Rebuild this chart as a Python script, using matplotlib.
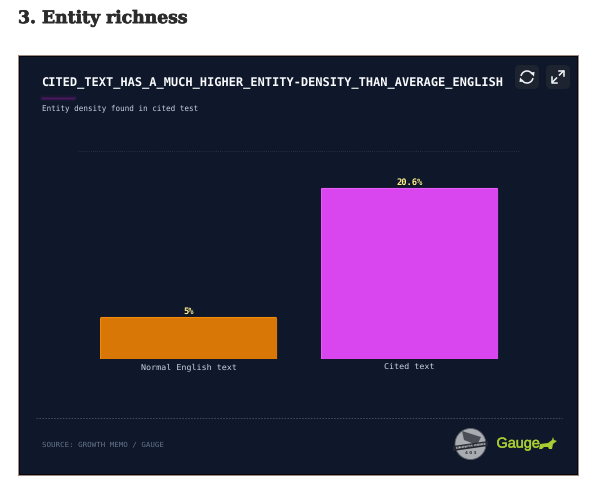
import matplotlib
matplotlib.use('Agg')
import matplotlib.pyplot as plt
import matplotlib.patheffects as pe
from matplotlib.patches import Rectangle, FancyBboxPatch, Circle, Polygon, Arc

categories = ['Normal English text', 'Cited text']
values = [5, 20.6]
value_labels = ['5%', '20.6%']
bar_colors = ['#d97706', '#d946ef']
bar_edges = ['#f08a0c', '#e85cf5']

W, H = 600, 488
BG = '#0f172a'

# unhinted text keeps the widths predictable at these tiny sizes
plt.rcParams['text.hinting'] = 'no_hinting'
plt.rcParams['text.hinting_factor'] = 8

fig = plt.figure(figsize=(W / 100, H / 100), dpi=100, facecolor='white')

# overlay in pixel coords for everything around the chart
page = fig.add_axes([0, 0, 1, 1], zorder=0)
page.set_xlim(0, W)
page.set_ylim(H, 0)
page.axis('off')

page.text(18, 18.5, '3. Entity richness', family='DejaVu Serif', weight='bold',
          fontsize=12.4, color='#2b2b2b', va='center', ha='left',
          path_effects=[pe.withStroke(linewidth=0.5, foreground='#2b2b2b')])

page.add_patch(Rectangle((18, 55), 561, 421, fc='#a08a80', ec='none'))
page.add_patch(Rectangle((19, 56), 559, 419, fc='#05070d', ec='none'))
page.add_patch(Rectangle((20, 57), 557, 417, fc=BG, ec='none'))

page.text(41.5, 83, 'CITED_TEXT_HAS_A_MUCH_HIGHER_ENTITY-DENSITY_THAN_AVERAGE_ENGLISH',
          family='DejaVu Sans Mono', weight='bold', fontsize=8.64, color='#f8fafc',
          va='center', ha='left')
page.text(41.5, 108, 'Entity density found in cited test', family='DejaVu Sans Mono',
          fontsize=5.47, color='#cbd5e1', va='center', ha='left')

# purple glow under the title
for lw, alpha in [(4, 0.08), (2.5, 0.12), (1, 0.3)]:
    page.plot([42, 74], [98, 98], color='#a21caf', lw=lw, alpha=alpha, solid_capstyle='round')

# buttons top right
for x0 in (515, 546):
    page.add_patch(FancyBboxPatch((x0 + 4, 69), 16, 16, boxstyle='round,pad=4,rounding_size=5',
                                  fc='#1d2430', ec='none'))
page.add_patch(Arc((527, 77), 12, 12, theta1=190, theta2=330, color='#f1f5f9', lw=1.1))
page.add_patch(Arc((527, 77), 12, 12, theta1=10, theta2=150, color='#f1f5f9', lw=1.1))
page.add_patch(Polygon([(530, 72.5), (534.5, 72), (534, 76.5)], fc='#f1f5f9', ec='none'))
page.add_patch(Polygon([(524, 81.5), (519.5, 82), (520, 77.5)], fc='#f1f5f9', ec='none'))
page.plot([552.5, 556.5], [82, 78], color='#f1f5f9', lw=1.1)
page.plot([559.5, 563.5], [75, 71], color='#f1f5f9', lw=1.1)
page.plot([559, 564, 564], [71, 71, 76], color='#f1f5f9', lw=1.1)
page.plot([552, 552, 557], [77, 82.5, 82.5], color='#f1f5f9', lw=1.1)

# footer
page.plot([36, 562], [418, 418], color='#475569', lw=0.6, ls=(0, (2, 1.5)))
page.text(41.5, 444, 'SOURCE: GROWTH MEMO / GAUGE', family='DejaVu Sans Mono',
          fontsize=5.36, color='#64748b', va='center', ha='left')

# growth memo badge
page.add_patch(Circle((470.5, 444), 15.5, fc='#a9acb0', ec='#5b6068', lw=0.6))
page.add_patch(Polygon([(462, 431), (481, 437), (477, 445), (464, 440)], fc='#4a4f57', ec='none'))
page.add_patch(Polygon([(453, 446), (488, 441), (488, 446), (453, 451)], fc='#23272f', ec='none'))
page.text(470.5, 446, 'GROWTH MEMO', fontsize=2.4, color='#d5d7da', ha='center', va='center',
          rotation=8, weight='bold')
page.text(470.5, 454, '4 0 3', fontsize=3, color='#333841', ha='center', va='center', weight='bold')

# gauge logo
page.text(496.5, 444, 'Gauge', family='Liberation Sans', fontsize=10.4, color='#a8cc32',
          va='center', ha='left', path_effects=[pe.withStroke(linewidth=0.35, foreground='#a8cc32')])
page.add_patch(Polygon([(540, 444), (548, 443), (552, 440), (553, 437), (554, 440), (557, 441),
                        (553, 444), (552, 449), (549, 449), (548, 447), (544, 447), (542, 449), (539, 449)],
                       fc='#a8cc32', ec='none'))

# chart itself
ax = fig.add_axes([78 / W, 1 - 358.5 / H, 442 / W, 207.5 / H], zorder=1)
ax.patch.set_alpha(0)
ax.set_xlim(-0.5, 1.5)
ax.set_ylim(0, 25)
for s in ax.spines.values():
    s.set_visible(False)
ax.set_yticks([0, 25])
ax.tick_params(axis='y', length=0, labelleft=False)
ax.tick_params(axis='x', length=0, pad=3, labelsize=6, labelcolor='#cbd5e1')
ax.grid(axis='y', color='#3b4860', lw=0.5, ls=(0, (1, 2)))
ax.set_axisbelow(True)

pos = range(len(categories))
bars = ax.bar(pos, values, width=0.797, color=bar_colors, edgecolor=bar_edges, linewidth=0.8, zorder=2)
ax.set_xticks(list(pos))
ax.set_xticklabels(categories, family='DejaVu Sans Mono')

fig.canvas.draw()
for bar in bars:
    # rounded top corners only, the clip box runs on past the baseline
    (x0, y0), (x1, y1) = ax.transData.transform([(bar.get_x(), 0), (bar.get_x() + bar.get_width(), bar.get_height())])
    clip = FancyBboxPatch((x0 - 0.5, y0 - 6), x1 - x0 + 1, y1 - y0 + 6.5,
                          boxstyle='round,pad=0,rounding_size=2.5', transform=None)
    bar.set_clip_path(clip)

for i, v in enumerate(values):
    ax.annotate(value_labels[i], (i, v), xytext=(0, 0.9), textcoords='offset points',
                ha='center', va='bottom', family='DejaVu Sans Mono', weight='bold', fontsize=6.3,
                color='#fef08a', zorder=3)

fig.savefig('out.png', dpi=100, facecolor='white')
